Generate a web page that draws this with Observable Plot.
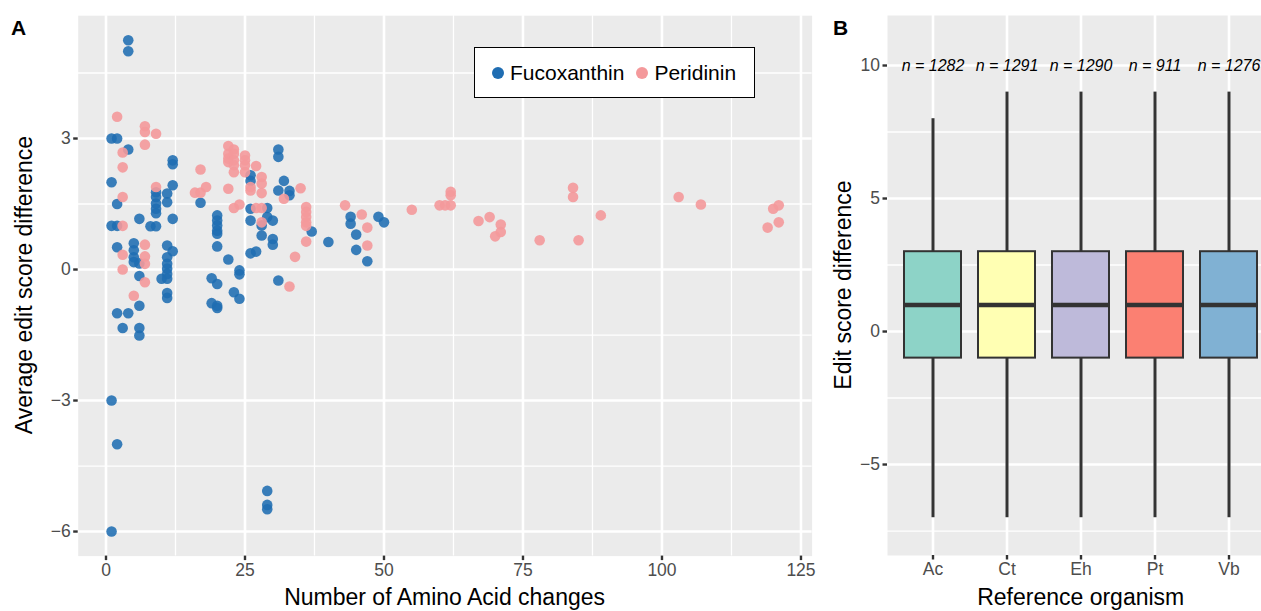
<!DOCTYPE html>
<html><head><meta charset="utf-8">
<script src="https://cdn.jsdelivr.net/npm/d3@7"></script>
<script src="https://cdn.jsdelivr.net/npm/@observablehq/plot@0.6"></script>
<style>
html,body{margin:0;padding:0;background:#fff;overflow:hidden;width:1261px;height:611px;}
#wrap{position:relative;width:1261px;height:611px;overflow:hidden;font-family:"Liberation Sans",Arial,sans-serif;}
.abs{position:absolute;white-space:nowrap;line-height:1;}
.ttl{font-size:23px;color:#000;transform:translate(-50%,-50%);}
.rot{transform:translate(-50%,-50%) rotate(-90deg);}
.tag{font-size:21px;font-weight:bold;color:#000;}
#legend{position:absolute;left:474px;top:47px;width:279px;height:49px;border:1.5px solid #000;background:#fff;display:flex;align-items:center;font-size:21px;}
.key{display:inline-block;width:12px;height:12px;border-radius:50%;margin-left:17px;margin-right:6px;}
svg{position:absolute;top:0;}
</style></head><body><div id="wrap"></div>
<script>
// ---------- Panel A data ----------
const fucoX = [1,1,1,1,1, 2,2,2,2,2,2, 3, 4,4,4,4, 5,5,5,5, 6,6,6,6,6,6, 8, 9,9,9,9,9,9, 10,
  11,11,11,11,11,11,11,11,11,11, 12,12,12,12,12, 17, 19,19, 20,20,20,20,20,20,20,20,20, 22, 23, 24,24,24,
  26,26,26,26,26, 27, 28,28, 29,29,29,29,29, 30,30,30, 31,31,31,31, 32, 33,33, 37, 40, 44,44, 45,45, 47, 49, 50];
const fucoY = [3.0,2.0,1.0,-3.0,-6.0, 3.0,1.5,1.0,0.51,-1.0,-4.0, -1.34, 5.25,5.0,2.75,-1.0, 0.60,0.44,0.28,0.17,
  1.16,0.14,-0.15,-0.83,-1.34,-1.51, 0.99, 1.77,1.66,1.51,1.39,1.29,0.99, -0.21,
  1.74,1.54,0.55,0.28,0.13,0.02,-0.10,-0.21,-0.54,-0.65, 2.50,2.41,1.93,1.16,0.42, 1.53, -0.20,-0.77,
  1.24,1.12,1.01,0.89,0.82,0.53,-0.33,-0.83,-0.88, 0.23, -0.52, -0.02,-0.11,-0.67,
  2.16,2.03,1.39,1.12,0.37, 0.41, 1.01,0.78, 1.41,1.20,-5.07,-5.39,-5.49, 1.12,0.70,0.57,
  2.75,2.58,1.81,-0.25, 2.03, 1.80,1.70, 0.87, 0.63, 1.21,1.05, 0.80,0.45, 0.19, 1.21, 1.08];
const periX = [2, 3,3,3,3,3,3, 5, 7,7,7,7,7,7,7, 9,9, 16, 17,17, 18, 22,22,22,22,22, 23,23,23,23,23,23, 24,
  25,25,25,25, 26,26, 27,27, 28,28,28,28,28, 32, 33, 34, 35, 36,36,36,36,36,36, 43, 46, 47,47, 55, 60, 61,
  62,62,62, 67, 69, 70, 71,71, 78, 84,84, 85, 89, 103, 107, 119, 120, 121,121];
const periY = [3.50, 2.68,2.34,1.66,1.00,0.34,0.00, -0.60, 3.28,3.15,2.86,0.57,0.30,0.13,-0.29, 3.11,1.89,
  1.76, 2.29,1.76, 1.89, 2.83,2.65,2.54,2.46,1.85, 2.75,2.65,2.50,2.39,2.23,1.41, 1.49,
  2.61,2.50,2.39,2.23, 1.89,1.81, 2.37,1.41, 2.12,1.97,1.75,1.41,1.08, 1.62, -0.39, 0.29, 1.86,
  1.43,1.32,1.20,1.08,1.00,0.64, 1.47, 1.26, 0.96,0.55, 1.37, 1.47, 1.47, 1.78,1.70,1.47, 1.11, 1.20, 0.76,
  1.03,0.86, 0.67, 1.87,1.66, 0.67, 1.24, 1.66, 1.49, 0.96, 1.39, 1.47,1.08];
const seriesNames = ["Fucoxanthin", "Peridinin"];
const seriesColors = ["#1f6db2", "#f4999b"];
const xTicksA = [0, 25, 50, 75, 100, 125];
const xMinorA = [12.5, 37.5, 62.5, 87.5, 112.5];
const yTicksA = [-6, -3, 0, 3];
const yMinorA = [-4.5, -1.5, 1.5, 4.5];

// ---------- Panel B data ----------
const orgs = ["Ac", "Ct", "Eh", "Pt", "Vb"];
const nObs = [1282, 1291, 1290, 911, 1276];
const whiskLo = [-7, -7, -7, -7, -7];
const q1 = [-1, -1, -1, -1, -1];
const med = [1, 1, 1, 1, 1];
const q3 = [3, 3, 3, 3, 3];
const whiskHi = [8, 9, 9, 9, 9];
const boxColors = ["#8dd3c7", "#ffffb3", "#bebada", "#fb8072", "#80b1d3"];
const yTicksB = [-5, 0, 5, 10];
const yMinorB = [-7.5, -2.5, 2.5, 7.5];
const nLabelY = 10;

const font = '"Liberation Sans", Arial, sans-serif';
const wrap = document.getElementById("wrap");

const fuco = fucoX.map((x, i) => ({x, y: fucoY[i]}));
const peri = periX.map((x, i) => ({x, y: periY[i]}));

const gridStyle = {stroke: "#fff", strokeOpacity: 1};
const axisStyle = {tickSize: 4.5, tickPadding: 3, stroke: "#333", strokeWidth: 2.4, fill: "#4D4D4D", label: null};

const A = Plot.plot({
  width: 830, height: 611,
  marginLeft: 77.7, marginRight: 830 - 811.6, marginTop: 15.2, marginBottom: 611 - 555.6,
  x: {domain: [-5, 127]},
  y: {domain: [-6.5625, 5.8125]},
  style: {fontFamily: font, fontSize: "17.5px", background: "transparent", overflow: "visible"},
  marks: [
    Plot.frame({fill: "#EBEBEB", stroke: null}),
    Plot.gridX(xMinorA, {...gridStyle, strokeWidth: 1.3}),
    Plot.gridY(yMinorA, {...gridStyle, strokeWidth: 1.3}),
    Plot.gridX(xTicksA, {...gridStyle, strokeWidth: 2.6}),
    Plot.gridY(yTicksA, {...gridStyle, strokeWidth: 2.6}),
    Plot.axisX(xTicksA, axisStyle),
    Plot.axisY(yTicksA, axisStyle),
    Plot.dot(fuco, {x: "x", y: "y", r: 5.3, fill: seriesColors[0], fillOpacity: 0.88, stroke: null}),
    Plot.dot(peri, {x: "x", y: "y", r: 5.3, fill: seriesColors[1], fillOpacity: 0.9, stroke: null})
  ]
});
A.style.left = "0px";
wrap.appendChild(A);

const boxes = orgs.map((org, i) => ({org, n: nObs[i], lo: whiskLo[i], q1: q1[i], med: med[i], q3: q3[i], hi: whiskHi[i]}));

const B = Plot.plot({
  width: 460, height: 611,
  marginLeft: 67, marginRight: 5.6, marginTop: 15, marginBottom: 56,
  x: {type: "band", domain: orgs, paddingInner: 0.235, paddingOuter: 0.2175},
  y: {domain: [-8.42, 11.88]},
  color: {domain: orgs, range: boxColors},
  style: {fontFamily: font, fontSize: "17.5px", background: "transparent", overflow: "visible"},
  marks: [
    Plot.frame({fill: "#EBEBEB", stroke: null}),
    Plot.gridY(yMinorB, {...gridStyle, strokeWidth: 1.3}),
    Plot.gridY(yTicksB, {...gridStyle, strokeWidth: 2.6}),
    Plot.gridX(orgs, {...gridStyle, strokeWidth: 2.6}),
    Plot.axisX(orgs, axisStyle),
    Plot.axisY(yTicksB, axisStyle),
    Plot.ruleX(boxes, {x: "org", y1: "q3", y2: "hi", stroke: "#333", strokeWidth: 3}),
    Plot.ruleX(boxes, {x: "org", y1: "lo", y2: "q1", stroke: "#333", strokeWidth: 3}),
    Plot.barY(boxes, {x: "org", y1: "q1", y2: "q3", fill: "org", stroke: "#333", strokeWidth: 2}),
    Plot.tickY(boxes, {x: "org", y: "med", stroke: "#333", strokeWidth: 4.5}),
    Plot.text(boxes, {x: "org", y: () => nLabelY, text: d => "n = " + d.n, fontStyle: "italic", fontSize: 16, fill: "#000"})
  ]
});
B.style.left = "820px";
wrap.appendChild(B);

function addText(txt, cls, left, top) {
  const d = document.createElement("div");
  d.className = "abs " + cls;
  d.textContent = txt;
  d.style.left = left + "px";
  d.style.top = top + "px";
  wrap.appendChild(d);
}
addText("A", "tag", 11, 17);
addText("B", "tag", 833, 17);
addText("Average edit score difference", "ttl rot", 24, 285.4);
addText("Number of Amino Acid changes", "ttl", 444.6, 597);
addText("Edit score difference", "ttl rot", 843, 285);
addText("Reference organism", "ttl", 1080.7, 597);

const lg = document.createElement("div");
lg.id = "legend";
seriesNames.forEach((name, i) => {
  const k = document.createElement("span");
  k.className = "key";
  k.style.background = seriesColors[i];
  if (i > 0) k.style.marginLeft = "12px";
  lg.appendChild(k);
  const t = document.createElement("span");
  t.textContent = name;
  lg.appendChild(t);
});
wrap.appendChild(lg);
</script>
</body></html>
